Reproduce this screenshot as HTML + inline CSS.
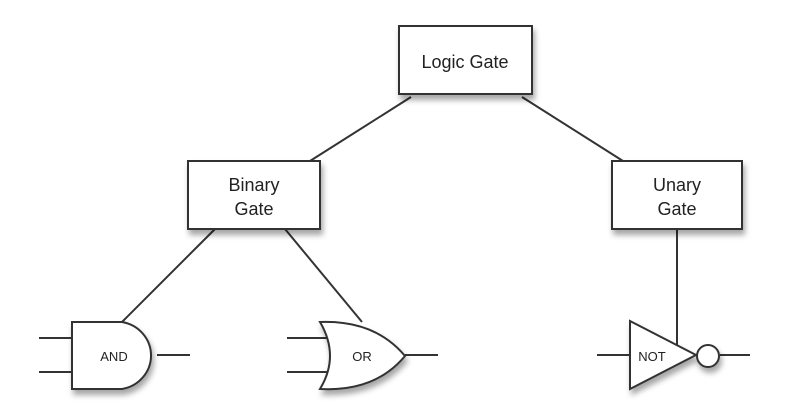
<!DOCTYPE html>
<html><head><style>body{margin:0;background:#fff}svg{display:block}</style></head><body>
<svg width="789" height="411" viewBox="0 0 789 411" xmlns="http://www.w3.org/2000/svg">
<defs><filter id="s" x="-20%" y="-20%" width="150%" height="160%"><feDropShadow dx="2" dy="5" stdDeviation="3" flood-color="#000" flood-opacity="0.35"/></filter></defs>
<g stroke="#333" stroke-width="2" fill="none">
<line x1="411" y1="97" x2="310" y2="161"/><line x1="522" y1="97" x2="623" y2="161"/>
<line x1="215" y1="229" x2="122" y2="322"/><line x1="285" y1="229" x2="362" y2="322"/>
<line x1="677" y1="229" x2="677" y2="345"/>
<line x1="39" y1="338" x2="72" y2="338"/><line x1="39" y1="372" x2="72" y2="372"/><line x1="157" y1="355" x2="190" y2="355"/>
<line x1="287" y1="338" x2="328" y2="338"/><line x1="287" y1="372" x2="328" y2="372"/><line x1="405" y1="355" x2="438" y2="355"/>
<line x1="597" y1="355" x2="630" y2="355"/><line x1="720" y1="355" x2="750" y2="355"/>
</g>
<g fill="#fff" stroke="#333" stroke-width="2" filter="url(#s)">
<rect x="399" y="26" width="133" height="68"/>
<rect x="188" y="161" width="132" height="68"/>
<rect x="612" y="161" width="130" height="68"/>
<path d="M72 322 H122 A35 34 0 0 1 122 389 H72 Z"/>
<path d="M320 322 Q375 320 405 356 Q375 392 320 389 Q340 356 320 322 Z"/>
<path d="M630 321 L696 355 L630 389 Z"/>
<circle cx="708" cy="356" r="11"/>
</g>
<g font-family="Liberation Sans, sans-serif" fill="#222" text-anchor="middle">
<text x="465" y="68" font-size="18">Logic Gate</text>
<text x="254" y="191" font-size="18">Binary</text><text x="254" y="215" font-size="18">Gate</text>
<text x="677" y="191" font-size="18">Unary</text><text x="677" y="215" font-size="18">Gate</text>
<text x="114" y="361" font-size="13">AND</text>
<text x="362" y="361" font-size="13">OR</text>
<text x="652" y="361" font-size="13">NOT</text>
</g>
</svg>
</body></html>
